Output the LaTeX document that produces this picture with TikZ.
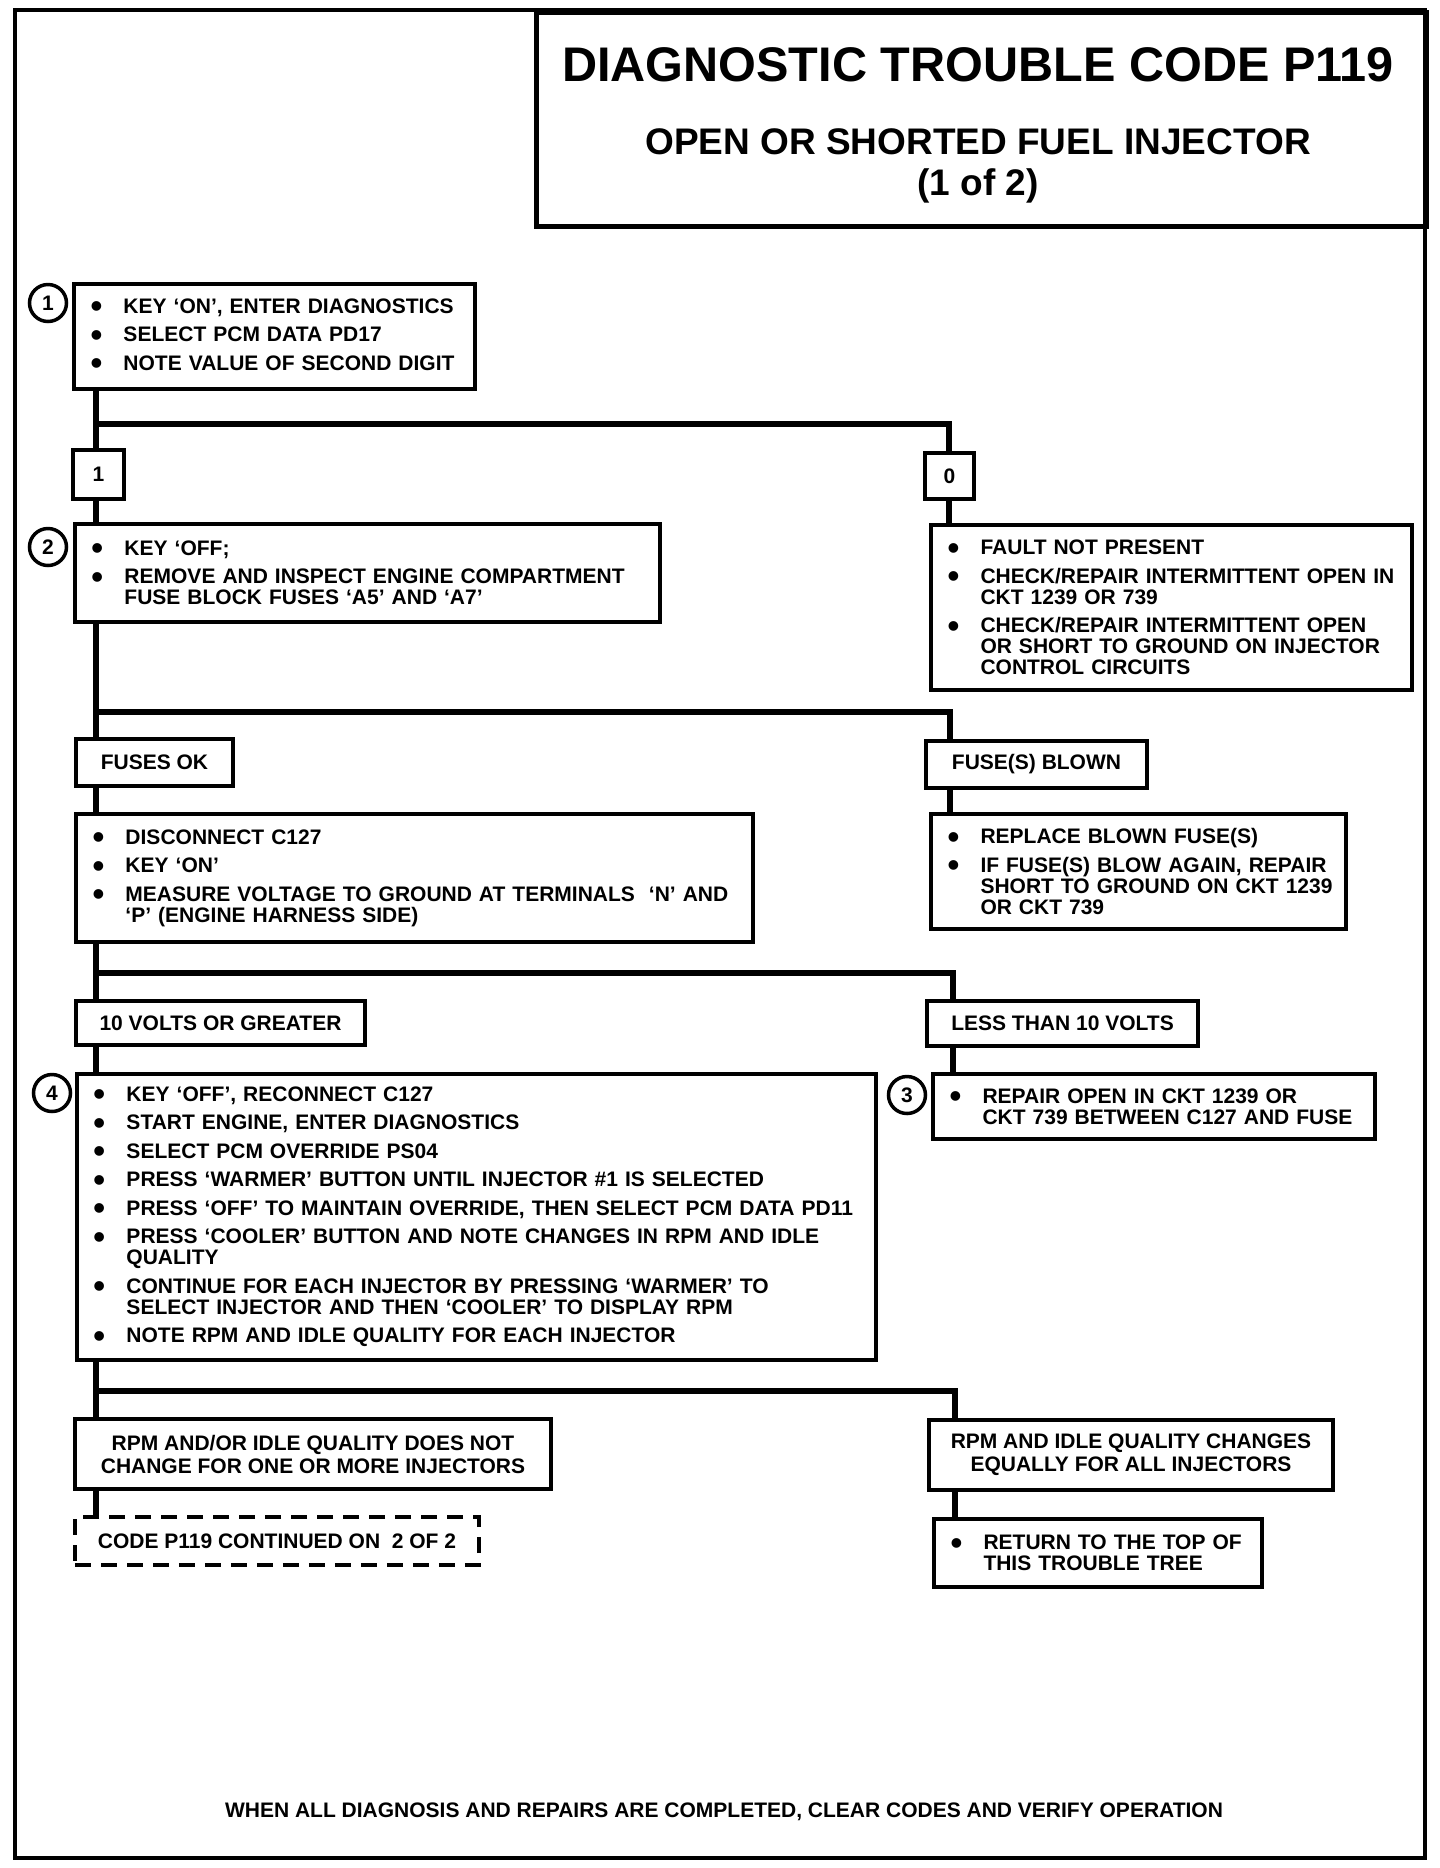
\documentclass[tikz,border=0pt]{standalone}
\usepackage{fontspec}
\setmainfont{Liberation Sans}
\usepackage{graphicx}
\usetikzlibrary{positioning, calc}

\newcommand{\blt}{\hspace*{1.65mm}\makebox[3.3mm][l]{\raisebox{-0.45mm}{\scalebox{1.6}{\textbullet}}}}
\newcommand{\ind}{\hspace*{4.95mm}}

\begin{document}
\begin{tikzpicture}[x=0.1mm, y=-0.1mm,
	txt/.style={font=\fontsize{2.1mm}{2.1mm}\selectfont\bfseries},
	stepbox/.style={draw, rectangle, line width=0.4mm, anchor=north west, inner sep=0pt, align=left, txt},
	tagbox/.style={draw, rectangle, line width=0.4mm, anchor=north west, inner sep=0pt, align=center, txt},
	num/.style={draw, circle, line width=0.35mm, minimum size=3.7mm, inner sep=0pt, txt},
	conn/.style={line width=0.65mm, line join=miter}]

	\useasboundingbox (0,0) rectangle (1440,1868);

	% frame and heading
	\draw[line width=0.45mm] (15,10) rectangle (1425,1858);
	\node (hdr) at (534,10) [draw, rectangle, line width=0.5mm, anchor=north west, minimum width=89mm, minimum height=21.4mm, inner sep=0pt]{};
	\node (ttl) at (978,65) [inner sep=0pt, font=\fontsize{4.86mm}{4.86mm}\selectfont\bfseries]{DIAGNOSTIC TROUBLE CODE P119};
	\node (sub) at (978,142) [inner sep=0pt, font=\fontsize{3.7mm}{3.7mm}\selectfont\bfseries]{OPEN OR SHORTED FUEL INJECTOR};
	\node (prt) at (978,186) [inner sep=0pt, font=\fontsize{3.7mm}{3.7mm}\selectfont\bfseries]{(1 of 2)};

	% step 1
	\node (s1) at (72,282) [stepbox, minimum width=40.1mm, text width=40.1mm, minimum height=10.5mm]{\blt KEY `ON', ENTER DIAGNOSTICS\\[0.75mm]
		\blt SELECT PCM DATA PD17\\[0.75mm]
		\blt NOTE VALUE OF SECOND DIGIT};
	\node (c1) at (48,303) [num]{1};

	\node (b1) at (71,448) [tagbox, minimum width=5.1mm, minimum height=4.9mm]{1};
	\node (b0) at (923,451) [tagbox, minimum width=4.9mm, minimum height=4.6mm]{0};

	% step 2
	\node (s2) at (73,522) [stepbox, minimum width=58.5mm, text width=58.5mm, minimum height=9.8mm]{\blt KEY `OFF;\\[0.75mm]
		\blt REMOVE AND INSPECT ENGINE COMPARTMENT\\ \ind FUSE BLOCK FUSES `A5' AND `A7'};
	\node (c2) at (48,547) [num]{2};

	\node (r0) at (929,523) [stepbox, minimum width=48.1mm, text width=48.1mm, minimum height=16.5mm]{\blt FAULT NOT PRESENT\\[0.75mm]
		\blt CHECK/REPAIR INTERMITTENT OPEN IN\\ \ind CKT 1239 OR 739\\[0.75mm]
		\blt CHECK/REPAIR INTERMITTENT OPEN\\ \ind OR SHORT TO GROUND ON INJECTOR\\ \ind CONTROL CIRCUITS};

	\node (fok) at (74,737) [tagbox, minimum width=15.7mm, minimum height=4.7mm]{FUSES OK};
	\node (fbl) at (924,739) [tagbox, minimum width=22.1mm, minimum height=4.7mm]{FUSE(S) BLOWN};

	\node (s3) at (74,812) [stepbox, minimum width=67.7mm, text width=67.7mm, minimum height=12.8mm]{\blt DISCONNECT C127\\[0.75mm]
		\blt KEY `ON'\\[0.75mm]
		\blt MEASURE VOLTAGE TO GROUND AT TERMINALS ~`N' AND\\ \ind `P' (ENGINE HARNESS SIDE)};

	\node (rep) at (929,812) [stepbox, minimum width=41.5mm, text width=41.5mm, minimum height=11.5mm]{\blt REPLACE BLOWN FUSE(S)\\[0.75mm]
		\blt IF FUSE(S) BLOW AGAIN, REPAIR\\ \ind SHORT TO GROUND ON CKT 1239\\ \ind OR CKT 739};

	\node (v10) at (74,999) [tagbox, minimum width=28.9mm, minimum height=4.4mm]{10 VOLTS OR GREATER};
	\node (vlt) at (925,999) [tagbox, minimum width=27.1mm, minimum height=4.5mm]{LESS THAN 10 VOLTS};

	% step 3
	\node (s3r) at (931,1072) [stepbox, minimum width=44.2mm, text width=44.2mm, minimum height=6.5mm]{\blt REPAIR OPEN IN CKT 1239 OR\\ \ind CKT 739 BETWEEN C127 AND FUSE};
	\node (c3) at (907,1095) [num]{3};

	% step 4
	\node (s4) at (75,1072) [stepbox, minimum width=79.9mm, text width=79.9mm, minimum height=28.6mm]{\blt KEY `OFF', RECONNECT C127\\[0.75mm]
		\blt START ENGINE, ENTER DIAGNOSTICS\\[0.75mm]
		\blt SELECT PCM OVERRIDE PS04\\[0.75mm]
		\blt PRESS `WARMER' BUTTON UNTIL INJECTOR \#1 IS SELECTED\\[0.75mm]
		\blt PRESS `OFF' TO MAINTAIN OVERRIDE, THEN SELECT PCM DATA PD11\\[0.75mm]
		\blt PRESS `COOLER' BUTTON AND NOTE CHANGES IN RPM AND IDLE\\ \ind QUALITY\\[0.75mm]
		\blt CONTINUE FOR EACH INJECTOR BY PRESSING `WARMER' TO\\ \ind SELECT INJECTOR AND THEN `COOLER' TO DISPLAY RPM\\[0.75mm]
		\blt NOTE RPM AND IDLE QUALITY FOR EACH INJECTOR};
	\node (c4) at (52,1093) [num]{4};

	\node (rpmL) at (73,1417) [tagbox, minimum width=47.6mm, minimum height=7mm]{RPM AND/OR IDLE QUALITY DOES NOT\\[0.2mm] CHANGE FOR ONE OR MORE INJECTORS};
	\node (rpmR) at (927,1418) [tagbox, minimum width=40.4mm, minimum height=7mm]{RPM AND IDLE QUALITY CHANGES\\[0.2mm] EQUALLY FOR ALL INJECTORS};

	\node (cont) at (73,1515) [tagbox, dash pattern=on 1.6mm off 1mm, minimum width=40.4mm, minimum height=4.8mm]{CODE P119 CONTINUED ON ~2 OF 2};
	\node (ret) at (932,1517) [stepbox, minimum width=32.8mm, text width=32.8mm, minimum height=6.8mm]{\blt RETURN TO THE TOP OF\\ \ind THIS TROUBLE TREE};

	\node (foot) at (724,1812) [txt, inner sep=0pt]{WHEN ALL DIAGNOSIS AND REPAIRS ARE COMPLETED, CLEAR CODES AND VERIFY OPERATION};

	% connectors
	\coordinate (j1) at (96,424);
	\coordinate (k1) at (949,424);
	\coordinate (j2) at (96,712);
	\coordinate (k2) at (950,712);
	\coordinate (j3) at (96,973);
	\coordinate (k3) at (953,973);
	\coordinate (j4) at (96,1391);
	\coordinate (k4) at (955,1391);

	\draw[conn] (s1.south -| j1) -- (b1.north -| j1);
	\draw[conn] (j1) -- (k1) -- (b0.north -| k1);
	\draw[conn] (b1.south -| j1) -- (s2.north -| j1);
	\draw[conn] (b0.south -| k1) -- (r0.north -| k1);

	\draw[conn] (s2.south -| j2) -- (fok.north -| j2);
	\draw[conn] (j2) -- (k2) -- (fbl.north -| k2);
	\draw[conn] (fok.south -| j2) -- (s3.north -| j2);
	\draw[conn] (fbl.south -| k2) -- (rep.north -| k2);

	\draw[conn] (s3.south -| j3) -- (v10.north -| j3);
	\draw[conn] (j3) -- (k3) -- (vlt.north -| k3);
	\draw[conn] (v10.south -| j3) -- (s4.north -| j3);
	\draw[conn] (vlt.south -| k3) -- (s3r.north -| k3);

	\draw[conn] (s4.south -| j4) -- (rpmL.north -| j4);
	\draw[conn] (j4) -- (k4) -- (rpmR.north -| k4);
	\draw[conn] (rpmL.south -| j4) -- (cont.north -| j4);
	\draw[conn] (rpmR.south -| k4) -- (ret.north -| k4);

\end{tikzpicture}
\end{document}
